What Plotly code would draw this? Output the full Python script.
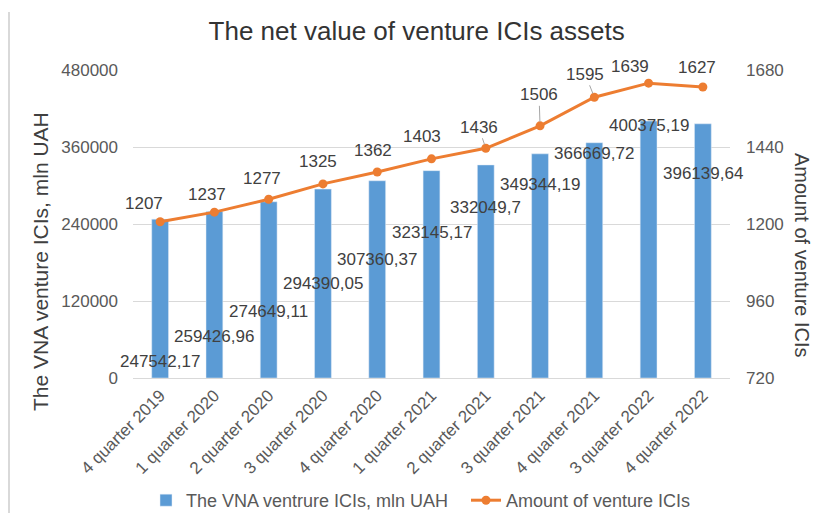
import plotly.graph_objects as go

categories = ["4 quarter 2019", "1 quarter 2020", "2 quarter 2020", "3 quarter 2020",
              "4 quarter 2020", "1 quarter 2021", "2 quarter 2021", "3 quarter 2021",
              "4 quarter 2021", "3 quarter 2022", "4 quarter 2022"]
vna_values = [247542.17, 259426.96, 274649.11, 294390.05, 307360.37, 323145.17,
              332049.7, 349344.19, 366669.72, 400375.19, 396139.64]
ici_counts = [1207, 1237, 1277, 1325, 1362, 1403, 1436, 1506, 1595, 1639, 1627]

# where Excel's bar labels sit (left-axis units)
bar_label_y = [25000, 64000, 103000, 148000, 184000, 227000, 265000, 301000, 350000, 394000, 319000]
# pixel offsets of the line labels from their points, and whether a leader line is shown
line_label_dx = [-16, -7, -7, -5, -4, -10, -7, -1, -9, -19, -6]
line_label_dy = [-18, -18, -21, -22, -22, -22, -21, -31, -23, -17, -20]
line_label_leader = [False, False, False, False, False, False, True, True, True, False, False]

left_ticks = [0, 120000, 240000, 360000, 480000]
right_ticks = [720, 960, 1200, 1440, 1680]

FONT = "Liberation Sans, Arial, sans-serif"
BLUE = "#5b9bd5"
ORANGE = "#ed7d31"
GRID = "#d9d9d9"
TICK = "#595959"
LABEL = "#404040"

# plot-area geometry (pixels)
L, R, T, B = 133, 730, 70, 378
W, H = 817, 513


def px_x(x):
    return (x - L) / (R - L)


def px_y(y):
    return (B - y) / (B - T)


fig = go.Figure()
fig.add_trace(go.Bar(
    x=categories, y=vna_values, name="The VNA ventrure ICIs, mln UAH",
    marker=dict(color=BLUE), yaxis="y", legend="legend",
))
fig.add_trace(go.Scatter(
    x=categories, y=ici_counts, name="Amount of venture ICIs", yaxis="y2",
    mode="lines+markers", line=dict(color=ORANGE, width=3),
    marker=dict(color=ORANGE, size=9), legend="legend2",
))

annotations = []
for c, v, ly in zip(categories, vna_values, bar_label_y):
    annotations.append(dict(
        x=c, y=ly, xref="x", yref="y", text=f"{v}".replace(".", ","),
        showarrow=False, font=dict(family=FONT, size=17, color=LABEL),
    ))
for c, n, dx, dy, lead in zip(categories, ici_counts, line_label_dx, line_label_dy, line_label_leader):
    annotations.append(dict(
        x=c, y=n, xref="x", yref="y2", text=str(n),
        showarrow=True, ax=dx, ay=dy, arrowhead=0, arrowwidth=1, standoff=4,
        arrowcolor="#a6a6a6" if lead else "rgba(0,0,0,0)",
        font=dict(family=FONT, size=17, color=LABEL),
    ))
annotations.append(dict(
    x=px_x(40), y=px_y(262), xref="paper", yref="paper", xanchor="center", yanchor="middle",
    text="The VNA venture ICIs, mln UAH",
    textangle=-90, showarrow=False, font=dict(family=FONT, size=21, color=LABEL),
))
annotations.append(dict(
    x=px_x(802), y=px_y(255), xref="paper", yref="paper", xanchor="center", yanchor="middle",
    text="Amount of venture ICIs",
    textangle=90, showarrow=False, font=dict(family=FONT, size=20, color=LABEL),
))

legend_common = dict(orientation="h", xanchor="left", xref="container",
                     y=1 - 482 / H, yanchor="top", yref="container", itemwidth=30,
                     font=dict(family=FONT, size=18, color=TICK), bgcolor="rgba(0,0,0,0)")

fig.update_layout(
    width=W, height=H,
    margin=dict(l=L, r=W - R, t=T, b=H - B, autoexpand=False),
    paper_bgcolor="white", plot_bgcolor="white",
    font=dict(family=FONT, size=16, color=TICK),
    title=dict(text="The net value of venture ICIs assets", x=0.51, xanchor="center",
               y=1 - 31 / H, yanchor="middle",
               font=dict(family=FONT, size=26, color="#333333")),
    bargap=0.69,
    showlegend=True,
    legend=dict(x=146 / W, **legend_common),
    legend2=dict(x=466 / W, **legend_common),
    xaxis=dict(type="category", range=[-0.5, 10.5], tickangle=-45, showgrid=False, showline=True,
               linecolor=GRID, linewidth=1, ticks="", automargin=False,
               tickfont=dict(family=FONT, size=17, color=TICK)),
    yaxis=dict(range=[0, 480000], tickvals=left_ticks, tickformat="d", showgrid=True,
               gridcolor=GRID, gridwidth=1, zeroline=False, showline=False,
               ticklabelstandoff=14, automargin=False,
               tickfont=dict(family=FONT, size=17, color=TICK)),
    yaxis2=dict(range=[720, 1680], tickvals=right_ticks, overlaying="y", side="right",
                showgrid=False, zeroline=False, showline=False, ticklabelstandoff=15,
                automargin=False, tickfont=dict(family=FONT, size=17, color=TICK)),
    annotations=annotations,
    shapes=[dict(type="line", xref="paper", yref="paper", x0=px_x(9), x1=px_x(9),
                 y0=px_y(520), y1=px_y(12), line=dict(color=GRID, width=2))],
)

fig.write_html("out.html")
